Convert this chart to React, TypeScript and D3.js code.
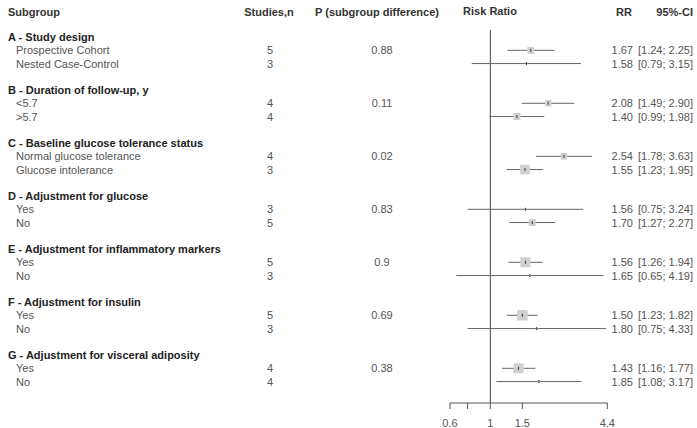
import React from "react";
import * as d3 from "d3";

const groupTitles = [
  "A - Study design",
  "B - Duration of follow-up, y",
  "C - Baseline glucose tolerance status",
  "D - Adjustment for glucose",
  "E - Adjustment for inflammatory markers",
  "F - Adjustment for insulin",
  "G - Adjustment for visceral adiposity",
];
const pValues = ["0.88", "0.11", "0.02", "0.83", "0.9", "0.69", "0.38"];
const subLabels = [
  "Prospective Cohort", "Nested Case-Control",
  "<5.7", ">5.7",
  "Normal glucose tolerance", "Glucose intolerance",
  "Yes", "No",
  "Yes", "No",
  "Yes", "No",
  "Yes", "No",
];
const studies = [5, 3, 4, 4, 4, 3, 3, 5, 5, 3, 5, 3, 4, 4];
const rr = [1.67, 1.58, 2.08, 1.4, 2.54, 1.55, 1.56, 1.7, 1.56, 1.65, 1.5, 1.8, 1.43, 1.85];
const lower = [1.24, 0.79, 1.49, 0.99, 1.78, 1.23, 0.75, 1.27, 1.26, 0.65, 1.23, 0.75, 1.16, 1.08];
const upper = [2.25, 3.15, 2.9, 1.98, 3.63, 1.95, 3.24, 2.27, 1.94, 4.19, 1.82, 4.33, 1.77, 3.17];
const weights = [40, 2, 35, 40, 35, 75, 3, 40, 83, 3, 91, 3, 83, 7];
const tickValues = [0.6, 0.75, 1, 1.5, 4.4];
const tickLabels = ["0.6", "", "1", "1.5", "4.4"];

const FONT = "'Liberation Sans', Arial, sans-serif";

export default function App() {
  const W = 697, H = 428;
  const x = d3.scaleLog().domain([0.6, 4.4]).range([450, 607.3]);
  const y = d3.scaleLinear().domain([0, 1]).range([37.05, 50.3]);
  const side = d3.scaleSqrt().domain([0, 100]).range([0, 11]);
  const axisY = 403;
  const fs = 11;
  const dy = 4;
  const f2 = d3.format(".2f");

  const textGray = "#555";
  const headGray = "#333";

  return (
    <svg width={W} height={H} style={{ position: "absolute", left: 0, top: 0, background: "#fff" }}
      fontFamily={FONT} fontSize={fs}>
      {/* header */}
      <g fontWeight="bold" fill={headGray}>
        <text x={8} y={12 + dy}>Subgroup</text>
        <text x={269} y={12 + dy} textAnchor="middle">Studies,n</text>
        <text x={377} y={12 + dy} textAnchor="middle">P (subgroup difference)</text>
        <text x={490} y={11 + dy} textAnchor="middle">Risk Ratio</text>
        <text x={632} y={12 + dy} textAnchor="end">RR</text>
        <text x={693} y={12 + dy} textAnchor="end">95%-CI</text>
      </g>

      {/* reference line at 1 */}
      <line x1={x(1)} x2={x(1)} y1={30} y2={axisY} stroke="#444" strokeWidth={1} />

      {groupTitles.map((g, gi) => (
        <g key={g}>
          <text x={8} y={y(gi * 4) + dy} fontWeight="bold" fill="#222">{g}</text>
          <text x={382} y={y(gi * 4 + 1) + dy} textAnchor="middle" fill={textGray}>{pValues[gi]}</text>
        </g>
      ))}

      {subLabels.map((lab, i) => {
        const gi = Math.floor(i / 2);
        const k = i % 2;
        const yy = y(gi * 4 + k + 1);
        const s = side(weights[i]);
        const cx = x(rr[i]);
        return (
          <g key={i}>
            <text x={16} y={yy + dy} fill={textGray}>{lab}</text>
            <text x={270} y={yy + dy} textAnchor="middle" fill={textGray}>{studies[i]}</text>
            <line x1={x(lower[i])} x2={x(upper[i])} y1={yy} y2={yy} stroke="#666" strokeWidth={1} />
            <rect x={cx - s / 2} y={yy - s / 2} width={s} height={s} fill="#d0d0d0" />
            <line x1={cx} x2={cx} y1={yy - 1.5} y2={yy + 1.5} stroke="#333" strokeWidth={1} />
            <text x={633} y={yy + dy} textAnchor="end" fill={textGray}>{f2(rr[i])}</text>
            <text x={693} y={yy + dy} textAnchor="end" fill={textGray}>
              {`[${f2(lower[i])}; ${f2(upper[i])}]`}
            </text>
          </g>
        );
      })}

      {/* axis */}
      <line x1={x(tickValues[0])} x2={x(tickValues[tickValues.length - 1])} y1={axisY} y2={axisY} stroke="#555" />
      {tickValues.map((t, i) => (
        <g key={t}>
          <line x1={x(t)} x2={x(t)} y1={axisY} y2={axisY + 6} stroke="#555" />
          {tickLabels[i] && (
            <text x={x(t)} y={423 + dy} textAnchor="middle" fill={textGray}>{tickLabels[i]}</text>
          )}
        </g>
      ))}
    </svg>
  );
}
